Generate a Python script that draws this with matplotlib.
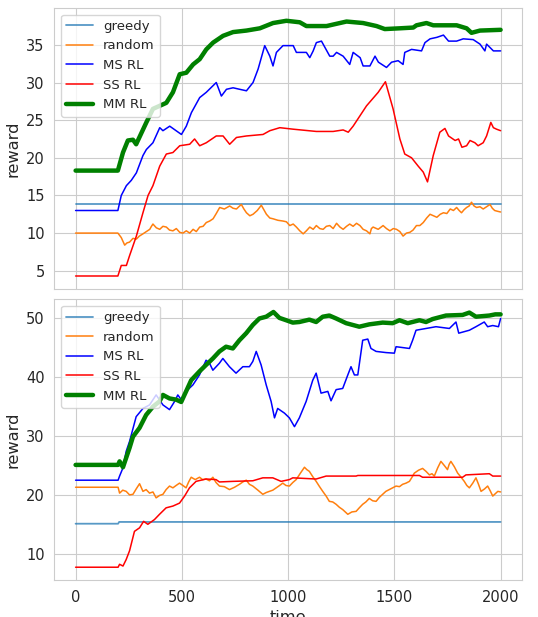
import matplotlib
matplotlib.use("Agg")
import matplotlib.pyplot as plt
import seaborn as sns

sns.set_style("whitegrid")
plt.rcParams['font.family'] = ['DejaVu Sans']

labels = ["greedy", "random", "MS RL", "SS RL", "MM RL"]
xticks = [0, 500, 1000, 1500, 2000]

# ---------------- top panel ----------------
top_greedy_t = [0, 2000]
top_greedy_v = [13.9, 13.9]

top_random_t = [0, 199, 207, 215, 223, 231, 242, 254, 270, 286, 300, 317, 333, 349, 357, 364, 380, 396, 411, 427,
                442, 458, 474, 490, 505, 521, 537, 553, 568, 584, 600, 615, 631, 647, 662, 678, 700, 725, 741, 757,
                768, 780, 792, 804, 820, 835, 855, 874, 886, 898, 914, 929, 952, 976, 992, 1008, 1024, 1039, 1055,
                1071, 1086, 1102, 1118, 1133, 1149, 1165, 1180, 1196, 1212, 1228, 1244, 1259, 1275, 1290, 1306,
                1322, 1338, 1353, 1369, 1385, 1392, 1400, 1424, 1447, 1463, 1479, 1495, 1510, 1526, 1541, 1557,
                1573, 1588, 1604, 1620, 1636, 1652, 1668, 1684, 1700, 1716, 1731, 1747, 1763, 1778, 1793, 1805,
                1816, 1828, 1840, 1852, 1863, 1875, 1887, 1903, 1918, 1934, 1950, 1961, 1972, 1985, 2000]
top_random_v = [10.0, 10.0, 9.7, 9.4, 8.9, 8.4, 8.7, 8.8, 9.3, 9.2, 9.6, 9.9, 10.2, 10.5, 10.9, 11.2, 10.7, 10.5, 10.9,
                10.8, 10.4, 10.3, 10.6, 10.1, 10.0, 10.3, 10.0, 10.5, 10.2, 10.8, 10.9, 11.4, 11.6, 11.9, 12.6, 13.4,
                13.2, 13.6, 13.3, 13.2, 13.5, 13.8, 13.2, 12.7, 12.3, 12.5, 13.0, 13.7, 13.1, 12.5, 12.0, 11.9, 11.7,
                11.6, 11.5, 11.0, 11.2, 10.8, 10.3, 9.9, 10.3, 10.8, 10.5, 11.0, 10.6, 10.5, 10.9, 11.0, 10.6, 11.3,
                10.8, 10.5, 10.9, 11.2, 10.9, 11.3, 11.0, 10.5, 10.3, 9.9, 10.6, 10.8, 10.5, 11.0, 10.6, 10.3, 10.6,
                10.5, 10.2, 9.6, 10.0, 10.1, 10.4, 11.0, 11.0, 11.4, 12.0, 12.5, 12.3, 12.1, 12.5, 12.7, 12.6, 13.2,
                13.0, 13.4, 13.0, 12.7, 13.1, 13.4, 13.6, 14.1, 13.6, 13.4, 13.5, 13.2, 13.5, 13.8, 13.3, 13.0, 12.9,
                12.8]

top_ms_t = [0, 199, 215, 239, 262, 286, 317, 333, 364, 396, 411, 443, 498, 521, 545, 584, 615, 662, 686, 710, 741,
            772, 804, 835, 859, 890, 914, 929, 945, 976, 1024, 1039, 1086, 1102, 1118, 1133, 1157, 1196, 1212, 1228,
            1259, 1290, 1306, 1339, 1353, 1385, 1409, 1425, 1463, 1487, 1518, 1541, 1549, 1581, 1628, 1644, 1668,
            1700, 1731, 1755, 1793, 1824, 1871, 1903, 1926, 1934, 1966, 2000]
top_ms_v = [13.0, 13.0, 15.0, 16.3, 17.0, 18.0, 20.3, 21.1, 22.0, 24.0, 23.6, 24.2, 23.1, 24.2, 26.0, 28.0, 28.7,
            30.0, 28.2, 29.1, 29.3, 29.1, 28.9, 30.0, 31.8, 34.9, 33.5, 32.2, 34.0, 34.9, 34.9, 34.0, 34.0, 33.3,
            34.2, 35.3, 35.5, 33.5, 33.5, 34.0, 33.5, 32.4, 34.0, 33.3, 32.2, 32.2, 33.5, 32.7, 32.0, 32.7, 32.9,
            32.4, 34.0, 34.4, 34.2, 35.3, 35.8, 36.0, 36.3, 35.5, 35.5, 35.8, 35.7, 35.1, 34.2, 35.1, 34.2, 34.2]

top_ss_t = [0, 199, 215, 239, 254, 286, 317, 341, 364, 396, 427, 458, 490, 537, 560, 584, 615, 662, 694, 725, 757,
            804, 882, 914, 961, 1024, 1133, 1212, 1259, 1283, 1306, 1369, 1424, 1458, 1494, 1526, 1549, 1581, 1612,
            1636, 1656, 1683, 1714, 1738, 1755, 1786, 1802, 1818, 1840, 1856, 1879, 1894, 1918, 1934, 1954, 1966,
            1981, 2000]
top_ss_v = [4.3, 4.3, 5.7, 5.7, 7.0, 9.6, 12.7, 15.0, 16.3, 18.9, 20.5, 20.7, 21.6, 21.8, 22.5, 21.6, 22.0, 22.9,
            22.9, 21.8, 22.7, 22.9, 23.1, 23.6, 24.0, 23.8, 23.5, 23.5, 23.7, 23.4, 24.2, 26.9, 28.7, 30.1, 26.5,
            22.5, 20.5, 20.0, 18.9, 18.1, 16.8, 20.3, 23.4, 23.9, 22.9, 22.3, 22.5, 21.4, 21.6, 22.3, 22.0, 21.6,
            22.0, 22.9, 24.7, 24.0, 23.8, 23.6]

top_mm_t = [0, 199, 223, 246, 270, 285, 333, 364, 427, 458, 490, 521, 553, 584, 615, 647, 694, 741, 804, 867, 929,
            992, 1055, 1086, 1181, 1212, 1275, 1353, 1416, 1455, 1526, 1589, 1604, 1651, 1683, 1793, 1840, 1863,
            1903, 2000]
top_mm_v = [18.3, 18.3, 20.7, 22.3, 22.4, 21.8, 24.7, 26.5, 27.3, 28.7, 31.1, 31.3, 32.4, 33.1, 34.4, 35.3, 36.2,
            36.7, 36.9, 37.2, 37.9, 38.2, 38.0, 37.5, 37.5, 37.7, 38.1, 37.9, 37.5, 37.1, 37.2, 37.3, 37.6, 37.9,
            37.6, 37.6, 37.2, 36.6, 36.9, 37.0]

# ---------------- bottom panel ----------------
bot_greedy_t = [0, 200, 205, 2000]
bot_greedy_v = [15.1, 15.1, 15.4, 15.4]

bot_random_t = [0, 200, 207, 222, 238, 254, 270, 285, 301, 317, 332, 348, 364, 379, 395, 411, 426, 442, 458, 473,
                489, 505, 520, 532, 544, 563, 583, 598, 614, 630, 646, 661, 677, 700, 724, 748, 771, 787, 803, 818,
                834, 858, 881, 897, 912, 928, 944, 960, 975, 990, 1006, 1022, 1038, 1058, 1077, 1088, 1100, 1116,
                1132, 1148, 1163, 1179, 1194, 1210, 1226, 1241, 1257, 1269, 1281, 1300, 1320, 1335, 1351, 1366, 1382,
                1398, 1414, 1430, 1445, 1460, 1476, 1492, 1508, 1524, 1539, 1555, 1571, 1583, 1594, 1614, 1633, 1649,
                1665, 1677, 1688, 1704, 1719, 1735, 1750, 1758, 1766, 1782, 1798, 1814, 1829, 1841, 1853, 1869, 1884,
                1896, 1908, 1924, 1939, 1951, 1963, 1975, 1987, 2000]
bot_random_v = [21.3, 21.3, 20.3, 20.8, 20.6, 20.0, 20.1, 21.0, 21.9, 20.6, 20.9, 20.3, 20.5, 19.5, 19.9, 20.1, 20.9,
                21.5, 21.2, 21.6, 22.0, 21.6, 21.2, 22.2, 23.0, 22.6, 23.0, 22.6, 22.7, 22.4, 23.0, 22.1, 21.5, 21.4,
                20.9, 21.3, 21.8, 22.2, 22.5, 21.8, 21.5, 20.8, 20.1, 20.4, 20.6, 20.8, 21.2, 21.6, 22.0, 21.6, 21.5,
                22.1, 22.6, 23.7, 24.7, 24.3, 24.0, 23.1, 22.3, 21.4, 20.6, 19.8, 18.9, 18.8, 18.4, 17.9, 17.5, 17.1,
                16.7, 17.1, 17.2, 17.8, 18.4, 18.8, 19.4, 19.0, 18.9, 19.6, 20.1, 20.6, 20.9, 21.2, 21.5, 21.4, 21.8,
                22.0, 22.3, 23.0, 23.7, 24.2, 24.5, 24.0, 23.4, 23.6, 23.2, 24.6, 25.7, 25.0, 24.3, 25.2, 25.7, 24.8,
                23.7, 23.0, 22.3, 21.6, 21.2, 22.0, 22.9, 21.8, 20.6, 21.0, 21.5, 20.7, 19.8, 20.2, 20.6, 20.5]

bot_ms_t = [0, 200, 207, 223, 238, 254, 285, 317, 348, 379, 411, 442, 466, 481, 497, 520, 552, 583, 614, 630, 646,
            677, 693, 724, 755, 787, 818, 834, 850, 873, 897, 920, 936, 951, 983, 1006, 1030, 1053, 1085, 1116,
            1132, 1155, 1187, 1202, 1226, 1257, 1281, 1296, 1312, 1328, 1351, 1375, 1390, 1414, 1461, 1500, 1508,
            1571, 1586, 1602, 1649, 1696, 1759, 1790, 1803, 1853, 1884, 1923, 1939, 1963, 1990, 2000]
bot_ms_v = [22.5, 22.5, 23.2, 24.6, 27.4, 29.1, 33.3, 34.7, 35.3, 37.0, 35.3, 34.5, 35.9, 37.0, 36.2, 37.6, 38.7,
            40.4, 42.9, 42.4, 41.2, 42.4, 43.2, 41.8, 40.7, 41.8, 41.8, 42.7, 44.4, 42.1, 38.7, 35.9, 33.1, 34.7,
            33.9, 33.1, 31.6, 33.1, 35.9, 39.5, 40.7, 37.3, 37.6, 36.0, 37.9, 38.1, 40.4, 41.8, 40.4, 40.4, 46.3,
            46.5, 44.9, 44.4, 44.2, 44.1, 45.2, 44.9, 46.3, 48.0, 48.3, 48.6, 48.3, 49.4, 47.5, 48.0, 48.6, 49.4,
            48.6, 48.8, 48.6, 50.0]

bot_ss_t = [0, 200, 207, 223, 238, 254, 277, 301, 320, 340, 371, 395, 426, 458, 489, 513, 536, 567, 614, 661, 677,
            740, 834, 881, 928, 967, 1006, 1022, 1132, 1179, 1320, 1328, 1618, 1633, 1821, 1837, 1947, 1963, 2000]
bot_ss_v = [7.7, 7.7, 8.2, 7.9, 9.0, 10.5, 13.8, 14.4, 15.5, 15.0, 15.8, 16.7, 17.8, 18.1, 18.6, 19.8, 21.2, 22.3,
            22.7, 22.6, 22.2, 22.3, 22.4, 22.9, 22.9, 22.3, 22.6, 22.9, 22.7, 23.2, 23.2, 23.3, 23.3, 23.0, 23.0,
            23.4, 23.6, 23.2, 23.2]

bot_mm_t = [0, 200, 207, 223, 238, 254, 270, 301, 332, 364, 395, 411, 442, 473, 497, 520, 544, 583, 614, 646, 677,
            708, 740, 771, 803, 834, 865, 897, 931, 959, 991, 1022, 1053, 1100, 1132, 1163, 1194, 1226, 1273, 1335,
            1382, 1445, 1492, 1524, 1563, 1618, 1649, 1680, 1743, 1821, 1853, 1884, 1947, 1975, 2000]
bot_mm_v = [25.1, 25.1, 25.7, 24.7, 26.3, 28.0, 29.9, 31.4, 33.6, 35.0, 35.9, 37.0, 36.4, 36.2, 35.8, 37.6, 39.5,
            41.0, 42.1, 43.2, 44.4, 45.2, 44.9, 46.3, 47.5, 48.9, 50.0, 50.3, 51.1, 50.1, 49.7, 49.3, 49.4, 49.8,
            49.4, 50.3, 50.5, 50.0, 49.2, 48.6, 49.0, 49.3, 49.2, 49.7, 49.2, 49.7, 49.4, 49.9, 50.5, 50.6, 51.0,
            50.3, 50.5, 50.7, 50.7]

colors = ["#1f77b4", "#ff7f0e", "blue", "red", "green"]
widths = [1.3, 1.1, 1.1, 1.1, 3.2]

fig = plt.figure(figsize=(5.38, 6.17), dpi=100)
ax1 = fig.add_axes([0.101, 0.532, 0.869, 0.455])
ax2 = fig.add_axes([0.101, 0.060, 0.869, 0.455], sharex=ax1)

top = [(top_greedy_t, top_greedy_v), (top_random_t, top_random_v), (top_ms_t, top_ms_v),
       (top_ss_t, top_ss_v), (top_mm_t, top_mm_v)]
bot = [(bot_greedy_t, bot_greedy_v), (bot_random_t, bot_random_v), (bot_ms_t, bot_ms_v),
       (bot_ss_t, bot_ss_v), (bot_mm_t, bot_mm_v)]

for ax, series in ((ax1, top), (ax2, bot)):
    for (t, v), lab, c, w in zip(series, labels, colors, widths):
        alpha = 0.75 if lab == "greedy" else 1.0
        ax.plot(t, v, color=c, lw=w, label=lab, alpha=alpha)
    ax.set_ylabel("reward", fontsize=11.7)
    ax.tick_params(labelsize=10.5)
    ax.legend(loc="upper left", fontsize=9.5)
    ax.set_xticks(xticks)

ax1.tick_params(labelbottom=False)
ax2.set_xlabel("time", fontsize=11.7)
ax1.set_yticks([5, 10, 15, 20, 25, 30, 35])
ax2.set_yticks([10, 20, 30, 40, 50])

fig.savefig("out.png", dpi=100)
